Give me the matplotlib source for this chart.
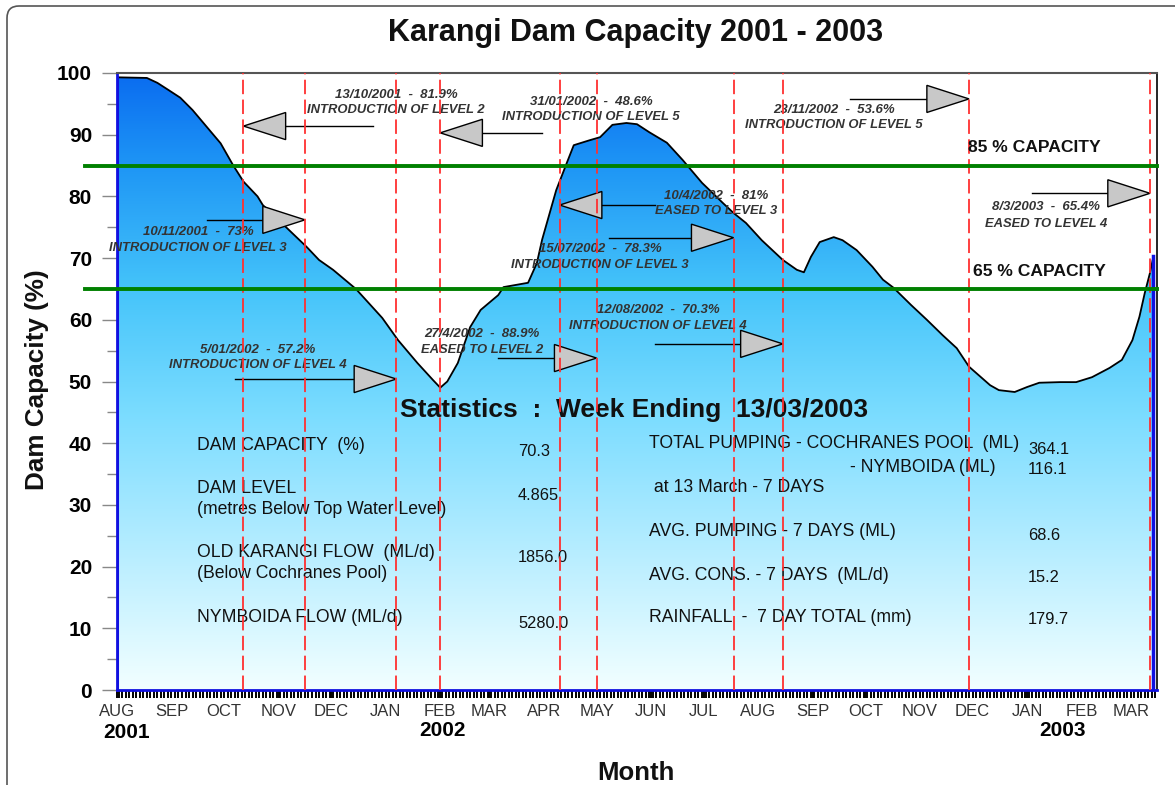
import numpy as np
import pandas as pd
import matplotlib
matplotlib.use("Agg")
import matplotlib.pyplot as plt
import matplotlib.dates as mdates
from matplotlib.colors import LinearSegmentedColormap
from matplotlib.patches import Polygon, FancyBboxPatch
from matplotlib.transforms import IdentityTransform

plt.rcParams['font.family'] = ['Liberation Sans', 'DejaVu Sans']

W, H = 1175, 785

# dam capacity (%)
cap_dates = ["2001-08-01", "2001-08-18", "2001-08-24", "2001-08-30", "2001-09-06",
             "2001-09-13", "2001-09-21", "2001-09-29", "2001-10-06", "2001-10-12",
             "2001-10-20", "2001-10-23", "2001-11-06", "2001-11-17", "2001-11-24",
             "2001-12-02", "2001-12-15", "2001-12-30", "2002-01-08", "2002-01-19",
             "2002-01-28", "2002-02-01", "2002-02-05", "2002-02-11", "2002-02-18",
             "2002-02-24", "2002-03-06", "2002-03-09", "2002-03-23", "2002-03-28",
             "2002-03-31", "2002-04-08", "2002-04-14", "2002-04-18", "2002-04-27",
             "2002-05-03", "2002-05-10", "2002-05-18", "2002-05-24", "2002-05-31",
             "2002-06-10", "2002-06-19", "2002-06-30", "2002-07-12", "2002-07-18",
             "2002-07-25", "2002-08-03", "2002-08-15", "2002-08-23", "2002-08-27",
             "2002-08-31", "2002-09-05", "2002-09-13", "2002-09-18", "2002-09-26",
             "2002-10-05", "2002-10-11", "2002-10-17", "2002-10-27", "2002-11-05",
             "2002-11-14", "2002-11-22", "2002-11-29", "2002-12-11", "2002-12-16",
             "2002-12-25", "2003-01-01", "2003-01-08", "2003-01-20", "2003-01-29",
             "2003-02-07", "2003-02-17", "2003-02-24", "2003-03-02", "2003-03-06",
             "2003-03-09", "2003-03-12", "2003-03-14"]
cap_values = [99.3, 99.2, 98.4, 97.3, 96.0, 94.0, 91.3, 88.6, 85.1, 82.4,
              80.0, 78.6, 74.8, 71.8, 69.7, 68.1, 65.0, 60.3, 56.7, 53.0,
              50.2, 49.0, 50.0, 53.0, 58.8, 61.6, 64.0, 65.3, 66.0, 69.2,
              73.0, 81.0, 85.4, 88.3, 89.1, 89.6, 91.6, 91.9, 91.7, 90.4,
              88.7, 85.9, 82.2, 78.9, 77.3, 75.7, 72.9, 69.7, 68.1, 67.7,
              70.2, 72.6, 73.4, 72.9, 71.3, 68.6, 66.5, 65.2, 62.4, 60.0,
              57.5, 55.4, 52.4, 49.4, 48.6, 48.3, 49.1, 49.8, 49.9, 49.9,
              50.7, 52.2, 53.5, 56.7, 60.5, 64.3, 67.6, 70.3]

# restriction events (red dashed lines)
event_dates = ["2001-10-12", "2001-11-16", "2002-01-07", "2002-02-01", "2002-04-10",
               "2002-05-01", "2002-07-18", "2002-08-15", "2002-11-29", "2003-03-12"]
event_line1 = ["13/10/2001  -  81.9%", "10/11/2001  -  73%", "5/01/2002  -  57.2%",
               "31/01/2002  -  48.6%", "10/4/2002  -  81%", "27/4/2002  -  88.9%",
               "15/07/2002  -  78.3%", "12/08/2002  -  70.3%", "23/11/2002  -  53.6%",
               "8/3/2003  -  65.4%"]
event_line2 = ["INTRODUCTION OF LEVEL 2", "INTRODUCTION OF LEVEL 3",
               "INTRODUCTION OF LEVEL 4", "INTRODUCTION OF LEVEL 5",
               "EASED TO LEVEL 3", "EASED TO LEVEL 2", "INTRODUCTION OF LEVEL 3",
               "INTRODUCTION OF LEVEL 4", "INTRODUCTION OF LEVEL 5", "EASED TO LEVEL 4"]

thresholds = [85, 65]
threshold_labels = ["85 % CAPACITY", "65 % CAPACITY"]

stats_title = "Statistics  :  Week Ending  13/03/2003"
stats_left = [("DAM CAPACITY  (%)", "70.3"),
              ("DAM LEVEL\n(metres Below Top Water Level)", "4.865"),
              ("OLD KARANGI FLOW  (ML/d)\n(Below Cochranes Pool)", "1856.0"),
              ("NYMBOIDA FLOW (ML/d)", "5280.0")]
stats_right = [("TOTAL PUMPING - COCHRANES POOL  (ML)", "364.1"),
               ("- NYMBOIDA (ML)", "116.1"),
               (" at 13 March - 7 DAYS", ""),
               ("AVG. PUMPING - 7 DAYS (ML)", "68.6"),
               ("AVG. CONS. - 7 DAYS  (ML/d)", "15.2"),
               ("RAINFALL  -  7 DAY TOTAL (mm)", "179.7")]

# arrow layout: (event index, tail date, y, text centre px x, line1 px y, line2 px y)
arrows = [(0, "2001-12-25", 91.4, 396, 95, 110),
          (1, "2001-09-21", 76.2, 198, 232, 248),
          (2, "2001-10-07", 50.4, 258, 350, 365),
          (3, "2002-03-31", 90.3, 591, 102, 117),
          (4, "2002-06-03", 78.6, 716, 196, 211),
          (5, "2002-03-06", 53.8, 482, 334, 350),
          (6, "2002-05-08", 73.3, 600, 249, 265),
          (7, "2002-06-03", 56.1, 658, 310, 326),
          (8, "2002-09-22", 95.8, 834, 110, 125),
          (9, "2003-01-04", 80.5, 1046, 207, 224)]


def fx(px):
    return px / W


def fy(py):
    return 1 - py / H


fig = plt.figure(figsize=(W / 100, H / 100), dpi=100)
ax = fig.add_axes([117 / W, 1 - 690 / H, 1040 / W, 617 / H])

xd = mdates.date2num(pd.to_datetime(cap_dates))
yv = np.array(cap_values)
ev = mdates.date2num(pd.to_datetime(event_dates))
x0 = mdates.date2num(pd.Timestamp("2001-08-01"))
x1 = mdates.date2num(pd.Timestamp("2003-03-16"))

# gradient fill under the curve
cmap = LinearSegmentedColormap.from_list(
    "dam", [(0.0, "#F2FFFF"), (0.2, "#BDEFFF"), (0.45, "#7ADCFF"),
            (0.65, "#45C4FA"), (0.85, "#1E96F5"), (1.0, "#0A6CF0")])
grad = np.linspace(0, 1, 256).reshape(-1, 1)
im = ax.imshow(grad, extent=[x0, x1, 0, 100], origin='lower', aspect='auto',
               cmap=cmap, zorder=1)
verts = [(xd[0], 0)] + list(zip(xd, yv)) + [(xd[-1], 0)]
poly = Polygon(verts, closed=True, facecolor='none', edgecolor='none')
ax.add_patch(poly)
im.set_clip_path(poly)

ax.plot(xd, yv, color='black', lw=1.3, zorder=3)
ax.plot([xd[0], xd[0]], [0, yv[0]], color='#1010E0', lw=2.2, zorder=3)
ax.plot([xd[-1], xd[-1]], [0, yv[-1]], color='#1010E0', lw=2.5, zorder=3)

for d in ev:
    ax.axvline(d, color='#FF3030', lw=1.3, ls=(0, (8, 3)), zorder=6)

for lvl in thresholds:
    ax.axhline(lvl, xmin=-0.031, xmax=1, color='#008000', lw=2.8, zorder=7,
               clip_on=False)
fig.text(fx(968), fy(148), threshold_labels[0], ha='left', va='center',
         fontsize=12.6, fontweight='bold', color='#111')
fig.text(fx(973), fy(272), threshold_labels[1], ha='left', va='center',
         fontsize=12.6, fontweight='bold', color='#111')

# event arrows and labels
tri_len = 24
tri_half = 2.2
for idx, tail, yy, tx, ty1, ty2 in arrows:
    tip = ev[idx]
    tl = mdates.date2num(pd.Timestamp(tail))
    sgn = 1 if tl > tip else -1
    base = tip + sgn * tri_len
    ax.plot([base, tl], [yy, yy], color='black', lw=1, zorder=5)
    tri = Polygon([(tip, yy), (base, yy + tri_half), (base, yy - tri_half)],
                  closed=True, facecolor='#C8C8C8', edgecolor='black', lw=1,
                  zorder=5)
    ax.add_patch(tri)
    ax.text(fx(tx), fy(ty1), event_line1[idx], transform=fig.transFigure,
            ha='center', va='center', fontsize=9.5, fontweight='bold',
            style='italic', color='#333', zorder=4)
    ax.text(fx(tx), fy(ty2), event_line2[idx], transform=fig.transFigure,
            ha='center', va='center', fontsize=9.4, fontweight='bold',
            style='italic', color='#333', zorder=4)

# statistics block
ax.text(fx(400), fy(410), stats_title, transform=fig.transFigure, ha='left',
        va='center', fontsize=19, fontweight='bold', color='#111', zorder=4)
left_label_y = [445, 499, 563, 617]
left_value_y = [452, 495, 558, 623]
for (lab, val), ly, vy in zip(stats_left, left_label_y, left_value_y):
    ax.text(fx(197), fy(ly), lab, transform=fig.transFigure, ha='left',
            va='center', fontsize=12.7, color='#111', linespacing=1.3,
            zorder=4)
    ax.text(fx(518), fy(vy), val, transform=fig.transFigure, ha='left',
            va='center', fontsize=11.8, color='#111', zorder=4)

right_label_y = [444, 467, 488, 531, 575, 618]
right_value_y = [450, 470, None, 535, 578, 620]
for (lab, val), ly, vy in zip(stats_right, right_label_y, right_value_y):
    if lab.startswith("- "):
        ax.text(fx(996), fy(ly), lab, transform=fig.transFigure, ha='right',
                va='center', fontsize=12.7, color='#111', zorder=4)
    else:
        ax.text(fx(649), fy(ly), lab, transform=fig.transFigure, ha='left',
                va='center', fontsize=12.7, color='#111', zorder=4)
    if val:
        ax.text(fx(1028), fy(vy), val, transform=fig.transFigure, ha='left',
                va='center', fontsize=11.8, color='#111', zorder=4)

# axes
ax.set_xlim(x0, x1)
ax.set_ylim(0, 100)
ax.set_yticks(np.arange(0, 101, 10))
ax.set_yticks(np.arange(5, 100, 10), minor=True)
ax.tick_params(axis='y', which='major', length=11, width=1, color='#888',
               pad=7, labelsize=15)
ax.tick_params(axis='y', which='minor', length=7, width=1, color='#888')
for t in ax.get_yticklabels():
    t.set_fontweight('bold')

ax.xaxis.set_major_locator(mdates.MonthLocator())
ax.xaxis.set_minor_locator(mdates.DayLocator(interval=2))
ax.xaxis.set_major_formatter(
    plt.FuncFormatter(lambda v, p: mdates.num2date(v).strftime('%b').upper()))
ax.tick_params(axis='x', which='both', length=6, width=1.4, color='black',
               direction='out')
ax.tick_params(axis='x', which='major', labelsize=12, labelcolor='#333', pad=4)

ax.spines['top'].set_color('#555')
ax.spines['top'].set_linewidth(1.5)
ax.spines['right'].set_color('black')
ax.spines['right'].set_linewidth(1.2)
ax.spines['bottom'].set_color('#1010E0')
ax.spines['bottom'].set_linewidth(2)
ax.spines['left'].set_color('#1010E0')
ax.spines['left'].set_linewidth(2)

fig.text(fx(127), fy(733), "2001", ha='center', va='center', fontsize=15,
         fontweight='bold')
fig.text(fx(443), fy(731), "2002", ha='center', va='center', fontsize=15,
         fontweight='bold')
fig.text(fx(1063), fy(731), "2003", ha='center', va='center', fontsize=15,
         fontweight='bold')

fig.text(fx(636), fy(33), "Karangi Dam Capacity 2001 - 2003", ha='center',
         va='center', fontsize=22, fontweight='bold', color='#111')
fig.text(fx(636), fy(773), "Month", ha='center', va='center', fontsize=18.5,
         fontweight='bold', color='#111')
fig.text(fx(37), fy(380), "Dam Capacity (%)", ha='center', va='center',
         rotation=90, fontsize=18.8, fontweight='bold', color='#111')

border = FancyBboxPatch((7, -30), 1220, 809, boxstyle="round,pad=0,rounding_size=12",
                        transform=IdentityTransform(), facecolor='none',
                        edgecolor='#555', lw=1.2)
fig.add_artist(border)

fig.savefig("out.png", dpi=100)
